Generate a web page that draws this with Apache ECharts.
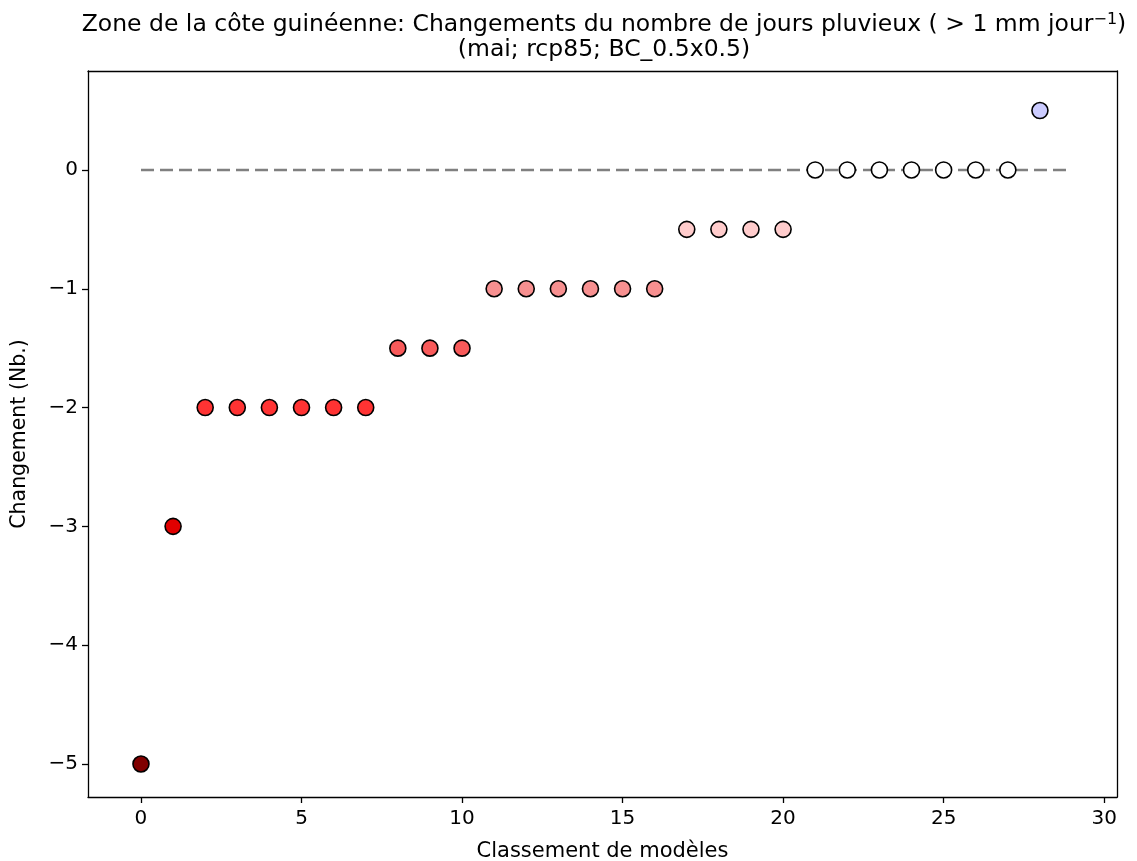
<!DOCTYPE html>
<html>
<head>
<meta charset="utf-8">
<script src="https://cdn.jsdelivr.net/npm/echarts@6/dist/echarts.min.js"></script>
<style>html,body{margin:0;padding:0;background:#fff}#c{width:1137px;height:861px}</style>
</head>
<body>
<div id="c"></div>
<script>
const ranks = [0,1,2,3,4,5,6,7,8,9,10,11,12,13,14,15,16,17,18,19,20,21,22,23,24,25,26,27,28];
const changes = [-5,-3,-2,-2,-2,-2,-2,-2,-1.5,-1.5,-1.5,-1,-1,-1,-1,-1,-1,-0.5,-0.5,-0.5,-0.5,0,0,0,0,0,0,0,0.5];
const pointColors = ['#800000','#e00000','#ff3333','#ff3333','#ff3333','#ff3333','#ff3333','#ff3333',
  '#f85a5a','#f85a5a','#f85a5a','#f79090','#f79090','#f79090','#f79090','#f79090','#f79090',
  '#ffcccc','#ffcccc','#ffcccc','#ffcccc','#ffffff','#ffffff','#ffffff','#ffffff','#ffffff','#ffffff','#ffffff','#ccccff'];
const refLineX = [0, 28.9];
const xTicks = [0,5,10,15,20,25,30];
const yTicks = [-5,-4,-3,-2,-1,0];

const font = 'DejaVu Sans';
const fmtNum = v => String(v).replace('-', '\u2212');
const chart = echarts.init(document.getElementById('c'), null, {renderer:'canvas'});
const axisLine = {show:true, onZero:false, lineStyle:{color:'#000', width:1.3}};
const tick = vals => ({show:true, inside:false, length:6, lineStyle:{color:'#000', width:1.3}, customValues:vals});
chart.setOption({
  animation:false,
  backgroundColor:'#fff',
  title:{
    left:599, top:7, textAlign:'center',
    text:'{t|Zone de la côte guinéenne: Changements du nombre de jours pluvieux ( > 1 mm jour}{s|\u22121}{t|)}\n{t|(mai; rcp85; BC_0.5x0.5)}',
    textStyle:{fontWeight:'normal', rich:{
      t:{fontFamily:font, fontSize:23.5, fontWeight:'normal', color:'#000', lineHeight:25},
      s:{fontFamily:font, fontSize:16, fontWeight:'normal', color:'#000', verticalAlign:'top', lineHeight:25, padding:[0,0,10,0]}
    }}
  },
  grid:{left:88, right:20, top:71, bottom:64, containLabel:false, outerBoundsMode:'none'},
  xAxis:[{
    type:'value', min:-1.65, max:30.4, position:'bottom',
    name:'Classement de modèles', nameLocation:'middle', nameGap:44,
    nameTextStyle:{fontFamily:font, fontSize:21, color:'#000'},
    axisLine:axisLine, axisTick:tick(xTicks),
    axisLabel:{fontFamily:font, fontSize:20, color:'#000', margin:12, customValues:xTicks, formatter:fmtNum},
    splitLine:{show:false}
  },{
    type:'value', min:-1.65, max:30.4, position:'top',
    axisLine:axisLine, axisTick:{show:false}, axisLabel:{show:false}, splitLine:{show:false}
  }],
  yAxis:[{
    type:'value', min:-5.278, max:0.833, position:'left',
    name:'Changement (Nb.)', nameLocation:'middle', nameGap:58, nameRotate:90,
    nameTextStyle:{fontFamily:font, fontSize:20.5, color:'#000'},
    axisLine:axisLine, axisTick:tick(yTicks),
    axisLabel:{fontFamily:font, fontSize:20, color:'#000', margin:10, customValues:yTicks, formatter:fmtNum},
    splitLine:{show:false}
  },{
    type:'value', min:-5.278, max:0.833, position:'right',
    axisLine:axisLine, axisTick:{show:false}, axisLabel:{show:false}, splitLine:{show:false}
  }],
  series:[{
    type:'line', xAxisIndex:0, yAxisIndex:0, z:1,
    data:refLineX.map(x=>[x,0]), symbol:'none',
    lineStyle:{color:'#808080', width:2.5, type:[13,6], opacity:1}
  },{
    type:'scatter', xAxisIndex:0, yAxisIndex:0, z:3,
    symbol:'circle', symbolSize:16,
    data:ranks.map((r,i)=>({value:[r,changes[i]], itemStyle:{color:pointColors[i], borderColor:'#000', borderWidth:1.6, opacity:1}}))
  }]
});
</script>
</body>
</html>
